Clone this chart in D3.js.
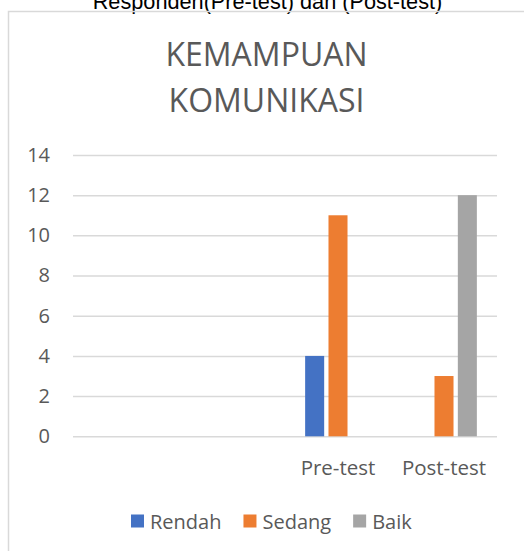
<!DOCTYPE html>
<html><head><meta charset="utf-8">
<script src="https://cdn.jsdelivr.net/npm/d3@7/dist/d3.min.js"></script>
<style>body{margin:0;background:#fff}svg{display:block}</style>
</head><body>
<svg id="c" width="524" height="551"></svg>
<script>
const pageTitle = "Responden(Pre-test) dan (Post-test)";
const chartTitle = ["KEMAMPUAN", "KOMUNIKASI"];
const categories = ["", " ", "Pre-test", "Post-test"];
const seriesNames = ["Rendah", "Sedang", "Baik"];
const rendah = [null, null, 4, null];
const sedang = [null, null, 11, 3];
const baik = [null, null, null, 12];
const yTicks = [0, 2, 4, 6, 8, 10, 12, 14];
const colors = ["#4472C4", "#ED7D31", "#A5A5A5"];

const values = [rendah, sedang, baik];
const svg = d3.select("#c");
const font = "'Open Sans', sans-serif";
const textCol = "#595959";

// page caption (cut off at top, as in the reference)
svg.append("text").attr("x", 267.5).attr("y", 8.5)
  .attr("text-anchor", "middle").attr("font-family", "'Liberation Sans', Arial, sans-serif")
  .attr("font-size", 21.7).attr("fill", "#000").text(pageTitle);

// chart border
svg.append("rect").attr("x", 8.5).attr("y", 11.5).attr("width", 700).attr("height", 700)
  .attr("fill", "none").attr("stroke", "#d9d9d9").attr("stroke-width", 1.5);

// title
svg.append("g").selectAll("text").data(chartTitle).join("text")
  .attr("x", 266.5).attr("y", (d, i) => 65.5 + i * 46)
  .attr("text-anchor", "middle").attr("font-family", font).attr("font-size", 32)
  .attr("fill", textCol).text(d => d);

const x0 = d3.scaleBand().domain(categories).range([73, 497]).padding(0);
const x1 = d3.scaleBand().domain(seriesNames)
  .range([x0.bandwidth() * 0.19, x0.bandwidth() * 0.81]).paddingInner(0.185).paddingOuter(0);
const y = d3.scaleLinear().domain([0, 14]).range([436.3, 155]);

// grid
const yAxis = svg.append("g").attr("transform", "translate(73,0)")
  .call(d3.axisLeft(y).tickValues(yTicks).tickSize(-(497 - 73)).tickPadding(23));
yAxis.select(".domain").remove();
yAxis.selectAll(".tick line").attr("stroke", "#d9d9d9").attr("stroke-width", 1.5);
yAxis.selectAll(".tick text").attr("font-family", font).attr("font-size", 20).attr("fill", textCol);

// bars
const groups = svg.append("g").selectAll("g").data(categories).join("g")
  .attr("transform", d => `translate(${x0(d)},0)`);
groups.selectAll("rect")
  .data((c, ci) => seriesNames.map((s, si) => ({ s, si, v: values[si][ci] })).filter(d => d.v != null))
  .join("rect")
  .attr("x", d => x1(d.s)).attr("width", x1.bandwidth())
  .attr("y", d => y(d.v)).attr("height", d => y(0) - y(d.v))
  .attr("fill", d => colors[d.si]);

// category labels
svg.append("g").selectAll("text").data(categories).join("text")
  .attr("x", d => x0(d) + x0.bandwidth() / 2).attr("y", 475)
  .attr("text-anchor", "middle").attr("font-family", font).attr("font-size", 20.5)
  .attr("fill", textCol).text(d => d);

// legend
const leg = svg.append("g");
let lx = 131;
seriesNames.forEach((s, i) => {
  leg.append("rect").attr("x", lx).attr("y", 514.5).attr("width", 13).attr("height", 13).attr("fill", colors[i]);
  const t = leg.append("text").attr("x", lx + 19).attr("y", 528.5)
    .attr("font-family", font).attr("font-size", 20).attr("fill", textCol).text(s);
  lx += 19 + t.node().getComputedTextLength() + 22;
});
</script>
</body></html>
